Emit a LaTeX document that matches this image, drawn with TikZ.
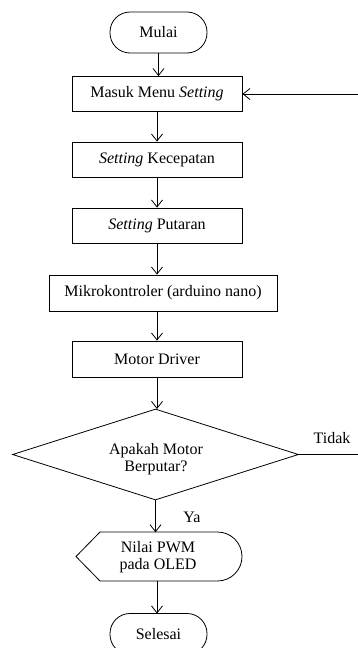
\documentclass[tikz,border=0pt]{standalone}
\usepackage{fontspec}
\setmainfont{Liberation Serif}
\usetikzlibrary{arrows.meta,shapes.geometric}
\begin{document}
\begin{tikzpicture}[x=1pt,y=-1pt,
  every node/.style={font=\fontsize{16}{18.5}\selectfont, inner sep=0pt},
  procbox/.style={draw, line width=0.8pt, minimum width=170pt, minimum height=35pt},
  termbox/.style={draw, line width=0.8pt, minimum width=97pt, minimum height=41pt, rounded corners=20pt},
  decbox/.style={draw, line width=0.8pt, diamond, shape aspect=3.14, minimum width=286pt, minimum height=91pt, align=center},
  flow/.style={line width=0.8pt, -{Straight Barb[length=7pt,width=11pt,line width=0.8pt]}},
  lbl/.style={font=\fontsize{16}{18.5}\selectfont}
]
\useasboundingbox (0,0) rectangle (358,648);
\node[termbox] (mulai) at (158.5,32.5) {Mulai};
\node[procbox] (masuk) at (157,94) {Masuk Menu \textit{Setting}};
\node[procbox] (kec) at (157,159.5) {\textit{Setting} Kecepatan};
\node[procbox] (put) at (157,225.5) {\textit{Setting} Putaran};
\node[procbox, minimum width=228pt, minimum height=36pt] (mikro) at (163,293) {Mikrokontroler (arduino nano)};
\node[procbox, minimum height=36pt] (driver) at (157,359) {Motor Driver};
\node[decbox] (dec) at (155.5,454.5) {};
\node[align=center] (dectext) at (156,459) {Apakah Motor\\[-1pt]Berputar?};
% display shape
\coordinate (dl) at (76,556.5);
\coordinate (dtl) at (100,532);
\coordinate (dtr) at (217.5,532);
\coordinate (dbl) at (100,581);
\draw[line width=0.8pt] (dl) -- (dtl) -- (dtr) arc[start angle=-90, end angle=90, radius=24.5] -- (dbl) -- cycle;
\node[align=center, minimum width=166pt, minimum height=49pt] (pwm) at (158,557) {Nilai PWM\\[-1pt]pada OLED};
\node[termbox] (selesai) at (158.5,634) {Selesai};
\coordinate (loop) at (359.5,454.5);
\draw[flow] (mulai) -- (mulai.south |- masuk.north);
\draw[flow] (157,111.5) -- (kec.north);
\draw[flow] (kec) -- (put);
\draw[flow] (put.south) -- (put.south |- mikro.north);
\draw[flow] (157,311) -- (driver.north);
\draw[flow] (driver.south) -- (157,409);
\draw[flow] (dec.south) -- (dec.south |- pwm.north);
\draw[flow] (157,581) -- (157,613.5);
\draw[flow] (dec.east) -- (loop) |- (masuk.east);
\node[lbl] (tidak) at (332,438) {Tidak};
\node[lbl] (ya) at (192,517) {Ya};
\end{tikzpicture}
\end{document}
